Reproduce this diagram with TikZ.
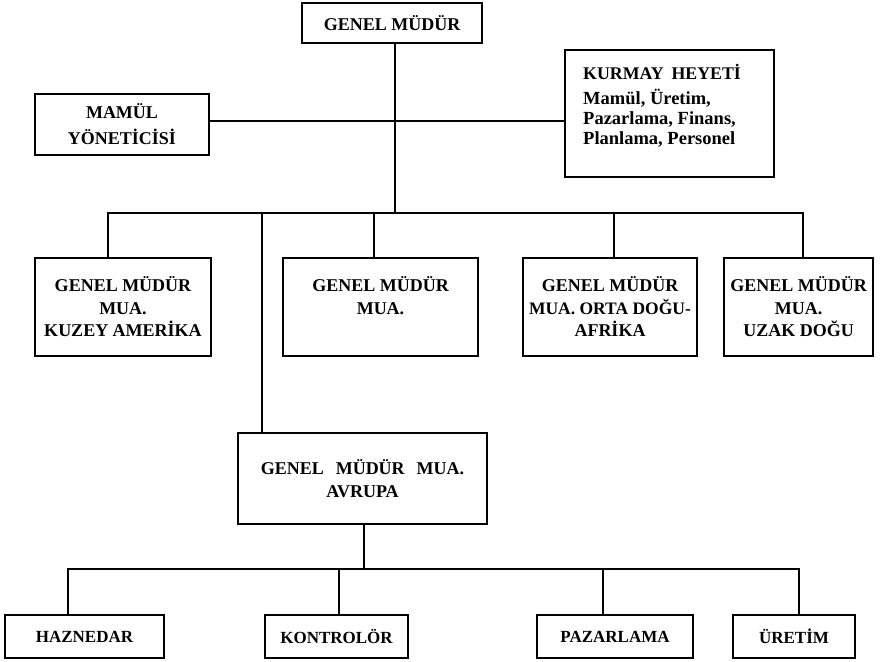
\documentclass[tikz,border=0pt]{standalone}
\usepackage{fontspec}
\setmainfont{Liberation Serif}
\begin{document}
\begin{tikzpicture}[x=1pt,y=-1pt,
  box/.style={draw, line width=1.9pt, inner sep=0pt, align=center,
    font=\fontsize{18}{22.5}\selectfont\bfseries},
  smallbox/.style={box, minimum height=43pt, font=\fontsize{17}{20}\selectfont\bfseries},
  conn/.style={line width=1.8pt}]
\useasboundingbox[fill=white] (0,0) rectangle (880,661);
% top level
\node[box, minimum width=180pt, minimum height=40pt] (gm) at (392,23) {GENEL MÜDÜR};
\node[box, minimum width=174pt, minimum height=61pt,
  font=\fontsize{18}{26}\selectfont\bfseries] (mamul) at (122,124.5) {MAMÜL\\YÖNETİCİSİ};
\node[box, minimum width=209pt, minimum height=127pt] (kurmay) at (669.5,113.5) {};
\node[anchor=north west, align=left, inner sep=0pt,
  font=\fontsize{18.5}{20}\selectfont\bfseries] (kurmaytxt) at (583,64)
  {{\fontsize{17.8}{20}\selectfont KURMAY\hspace{8pt}HEYETİ}\\[5pt]Mamül, Üretim,\\Pazarlama, Finans,\\Planlama, Personel};
% second level
\node[box, minimum width=176pt, minimum height=98pt] (b1) at (123,307) {GENEL MÜDÜR\\MUA.\\KUZEY AMERİKA};
\node[box, minimum width=195pt, minimum height=98pt] (b2) at (380.5,307) {GENEL MÜDÜR\\MUA.\\~};
\node[box, minimum width=174pt, minimum height=98pt] (b3) at (610,307) {GENEL MÜDÜR\\{\fontsize{17.5}{22.5}\selectfont MUA. ORTA DOĞU-}\\AFRİKA};
\node[box, minimum width=149pt, minimum height=98pt] (b4) at (798.5,307) {GENEL MÜDÜR\\MUA.\\UZAK DOĞU};
\node[box, minimum width=249pt, minimum height=91pt] (av) at (362.5,478.5) {GENEL\hspace{12pt}MÜDÜR\hspace{12pt}MUA.\\AVRUPA};
% bottom level
\node[smallbox, minimum width=159pt] (hz) at (84.5,636.5) {HAZNEDAR};
\node[smallbox, minimum width=143pt] (kt) at (336.5,636.5) {KONTROLÖR};
\node[smallbox, minimum width=156pt] (pz) at (615,636.5) {PAZARLAMA};
\node[smallbox, minimum width=122pt] (ur) at (794,636.5) {ÜRETİM};
% junction coordinates
\coordinate (staff) at (395,121);
\coordinate (trunk) at (395,213);
\coordinate (d1) at (108,213);
\coordinate (d2) at (374,213);
\coordinate (d3) at (614,213);
\coordinate (d4) at (803,213);
\coordinate (dav) at (262,213);
\coordinate (bus2) at (364,569);
\coordinate (e1) at (68,569);
\coordinate (e2) at (339,569);
\coordinate (e3) at (603,569);
\coordinate (e4) at (799,569);
% connectors
\draw[conn] (gm.south -| trunk) -- (trunk);
\draw[conn] (mamul.east |- staff) -- (kurmay.west |- staff);
\draw[conn, line cap=rect] (d1) -- (d4);
\draw[conn] (d1) -- (d1 |- b1.north);
\draw[conn] (d2) -- (d2 |- b2.north);
\draw[conn] (d3) -- (d3 |- b3.north);
\draw[conn] (d4) -- (d4 |- b4.north);
\draw[conn] (dav) -- (dav |- av.north);
\draw[conn] (av.south -| bus2) -- (bus2);
\draw[conn, line cap=rect] (e1) -- (e4);
\draw[conn] (e1) -- (e1 |- hz.north);
\draw[conn] (e2) -- (e2 |- kt.north);
\draw[conn] (e3) -- (e3 |- pz.north);
\draw[conn] (e4) -- (e4 |- ur.north);
\end{tikzpicture}
\end{document}
